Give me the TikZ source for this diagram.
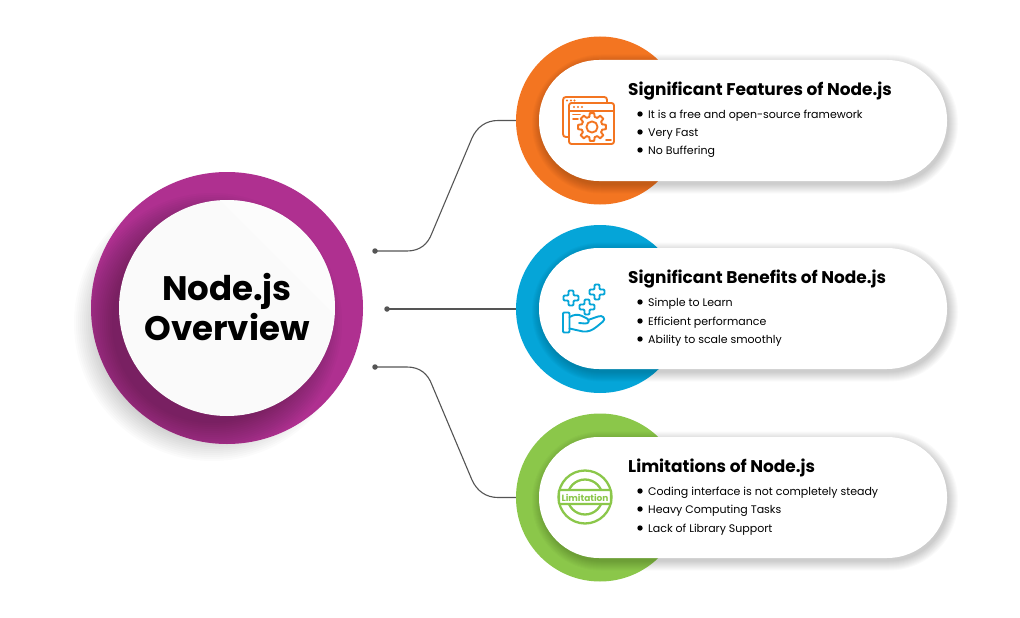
\documentclass[tikz,border=0pt]{standalone}
\usepackage{fontspec}
\setmainfont{Poppins}
\definecolor{cpurple}{HTML}{AF3090}
\definecolor{corange}{HTML}{F37521}
\definecolor{cblue}{HTML}{05A5D8}
\definecolor{cgreen}{HTML}{8BC74A}
\definecolor{cline}{HTML}{555555}
\tikzset{
  disc/.style={circle,fill=#1,draw=none,minimum size=168pt,inner sep=0pt},
  pill/.style={rectangle,rounded corners=60pt,fill=white,draw=none,minimum width=408pt,minimum height=121pt,inner sep=0pt},
  title/.style={anchor=west,inner sep=0pt,font=\bfseries\fontsize{16.95}{20}\selectfont,text=black},
  item/.style={anchor=west,inner sep=0pt,font=\fontsize{11}{14}\selectfont,text=black},
  bullet/.style={circle,fill=black,draw=none,minimum size=5.4pt,inner sep=0pt},
  dot/.style={circle,fill=cline,draw=none,minimum size=5.5pt,inner sep=0pt},
  conn/.style={draw=cline,line width=1.1pt},
  ico/.style={line width=1.9pt,line cap=round,line join=round,fill=none},
}
\newcommand{\pillshadow}[2]{% cx cy
  \foreach \i in {0,...,9}{
    \fill[black,opacity=0.018,rounded corners={60pt+\i*1pt}]
      ({#1-204-\i+2},{#2-60.5-\i+3.5}) rectangle ({#1+204+\i+2},{#2+60.5+\i+3.5});
  }
}
\begin{document}
\begin{tikzpicture}[x=1pt,y=-1pt]
\useasboundingbox (0,0) rectangle (1020,618);
\fill[white] (0,0) rectangle (1020,618);
% central shadow
\foreach \r in {108,110,...,138}{
  \fill[black,opacity=0.014] (212,323) circle (\r);
}
% discs
\node[disc=corange] (dorange) at (600,120.5) {};
\node[disc=cblue] (dblue) at (600,309) {};
\node[disc=cgreen] (dgreen) at (600,497.5) {};
% connector dots
\node[dot] (d1) at (375,251) {};
\node[dot] (d2) at (387,309) {};
\node[dot] (d3) at (375,367) {};
\draw[conn] (d1.center) -- (407,251) .. controls (420,251) and (428,244) .. (432,233)
  -- (472,138) .. controls (477,127) and (486,120.5) .. (498,120.5) -- (dorange.west);
\draw[conn] (d2.center) -- (dblue.west);
\draw[conn] (d3.center) -- (407,367) .. controls (420,367) and (428,374) .. (432,385)
  -- (472,480) .. controls (477,491) and (486,497.5) .. (498,497.5) -- (dgreen.west);
% pills
\pillshadow{743}{120.5}
\pillshadow{743}{308.5}
\pillshadow{743}{497.5}
\node[pill] (p1) at (743,120.5) {};
\node[pill] (p2) at (743,308.5) {};
\node[pill] (p3) at (743,497.5) {};
% central ring
\node[circle,fill=cpurple,draw=none,minimum size=272pt,inner sep=0pt] (ring) at (227,308) {};
\begin{scope}
  \clip (227,308) circle (135.8);
  \foreach \r in {100,102,...,130}{
    \fill[black,opacity=0.02] (212,323) circle (\r);
  }
\end{scope}
\node[circle,fill=black!2,draw=none,minimum size=216pt,inner sep=0pt] (core) at (227,308) {};
\begin{scope}
  \clip (227,308) circle (108);
  \fill[white,opacity=0.5] (210,190) -- (340,320) -- (340,190) -- cycle;
\end{scope}
\node[inner sep=0pt,font=\bfseries\fontsize{34}{40}\selectfont,align=center,text=black] (corelabel) at (227,307.5) {Node.js\\Overview};
% titles
\node[title] (t1) at (628,91) {Significant Features of Node.js};
\node[title] (t2) at (628,279) {Significant Benefits of Node.js};
\node[title] (t3) at (628,468) {Limitations of Node.js};
% items
\foreach \n/\y/\t in {a/114/It is a free and open-source framework,b/132/Very Fast,c/150/No Buffering,
  d/302/Simple to Learn,e/321/Efficient performance,f/339/Ability to scale smoothly,
  g/491/Coding interface is not completely steady,h/509/Heavy Computing Tasks,i/528/Lack of Library Support}{
  \node[bullet] (b\n) at (640,\y) {};
  \node[item] (i\n) at (648,\y+2) {\t};
}
% orange icon
\begin{scope}[ico,draw=corange]
  \draw (569,137) -- (566,137) .. controls (564,137) and (563,136) .. (563,134) -- (563,100)
     .. controls (563,98) and (564,97) .. (566,97) -- (604,97) .. controls (606,97) and (607,98) .. (607,100) -- (607,103);
  \draw[rounded corners=2.5pt] (569,103) rectangle (614,144);
  \draw (569,111) -- (614,111);
  \draw (573,114.5) -- (580,114.5);
  \draw (573,119) -- (578,119);
  \draw (606,140) -- (611,140);
  \foreach \a in {0,45,...,315}{
    \draw ([shift={(592,127)}]\a-15:10.5) -- ([shift={(592,127)}]\a-9:14) -- ([shift={(592,127)}]\a+9:14)
      -- ([shift={(592,127)}]\a+15:10.5) -- ([shift={(592,127)}]\a+30:10.5);
  }
  \draw (592,127) circle (5.6);
  \foreach \x in {567,571,574.5}{\fill[corange] (\x,100.5) circle (1.1);}
  \foreach \x in {574,578,582}{\fill[corange] (\x,107) circle (1.1);}
\end{scope}
% blue icon
\begin{scope}[ico,draw=cblue]
  \foreach \cx/\cy in {571/298,597/292,587/307}{
    \draw[shift={(\cx,\cy)},rounded corners=1pt] (-2.5,-7.5) -- (2.5,-7.5) -- (2.5,-2.5) -- (7.5,-2.5) -- (7.5,2.5) -- (2.5,2.5)
      -- (2.5,7.5) -- (-2.5,7.5) -- (-2.5,2.5) -- (-7.5,2.5) -- (-7.5,-2.5) -- (-2.5,-2.5) -- cycle;
  }
  \draw[rounded corners=1pt] (563,312.5) rectangle (569.5,332.5);
  \draw (569.5,317) .. controls (574,314.5) and (578,314) .. (582,316) -- (587,318.5)
     .. controls (590,320) and (589,324) .. (585,323.5) -- (579,323);
  \draw (588,320) -- (598,316.5) .. controls (603,314.5) and (606,319) .. (603,321.5)
     -- (597,326.5) .. controls (592,330.5) and (588,332) .. (583,331.5) -- (569.5,328.5);
\end{scope}
% green icon
\begin{scope}[ico,draw=cgreen,line width=2.3pt]
  \draw (585,497) circle (26.5);
  \begin{scope}
    \clip (550,465) rectangle (620,491) (550,503) rectangle (620,530);
    \draw (585,497) circle (17.5);
  \end{scope}
  \draw[fill=white,rounded corners=1pt] (559,490) rectangle (611,504);
  \node[inner sep=0pt,font=\bfseries\fontsize{9}{12}\selectfont,text=cgreen] (lim) at (585,497.5) {Limitation};
\end{scope}
\end{tikzpicture}
\end{document}
